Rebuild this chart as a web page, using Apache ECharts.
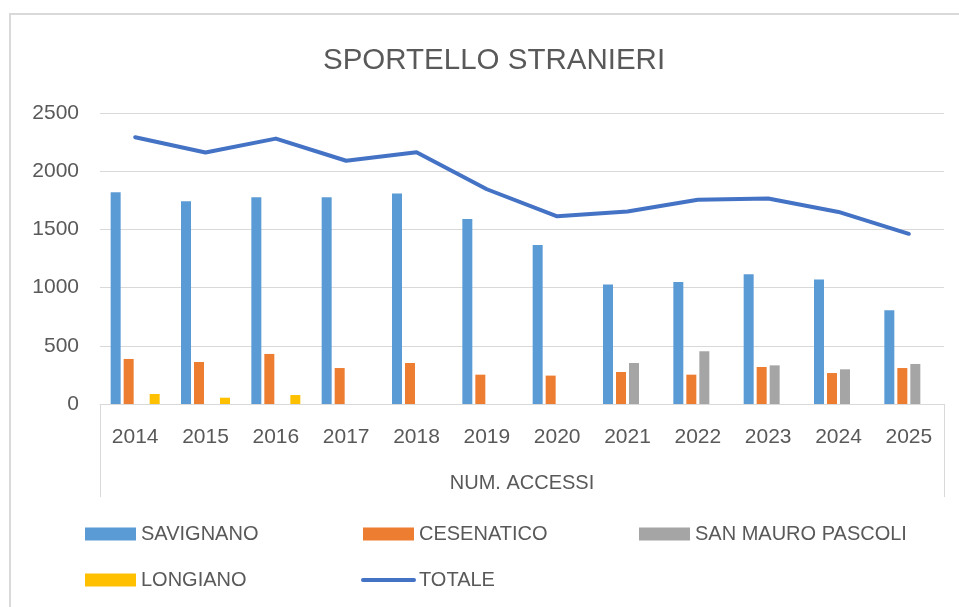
<!DOCTYPE html>
<html>
<head>
<meta charset="utf-8">
<title>SPORTELLO STRANIERI</title>
<script src="https://cdn.jsdelivr.net/npm/echarts@6.0.0/dist/echarts.min.js"></script>
<style>
  html, body { margin: 0; padding: 0; background: #fff; }
  #main { width: 959px; height: 607px; }
</style>
</head>
<body>
<div id="main"></div>
<script>
// dati (num. accessi)
const years = ['2014', '2015', '2016', '2017', '2018', '2019', '2020', '2021', '2022', '2023', '2024', '2025'];
const savignano = [1819, 1742, 1776, 1776, 1808, 1590, 1367, 1026, 1049, 1115, 1069, 805];
const cesenatico = [387, 361, 430, 309, 352, 252, 244, 275, 252, 318, 266, 309];
const sanMauro = [null, null, null, null, null, null, null, 352, 453, 332, 298, 344];
const longiano = [86, 54, 77, null, null, null, null, null, null, null, null, null];
const totale = [2292, 2160, 2280, 2090, 2163, 1845, 1612, 1653, 1755, 1766, 1650, 1462];
const yTicks = [0, 500, 1000, 1500, 2000, 2500];
const outerLabel = ['NUM. ACCESSI'];

const txt = '#595959';
const grid = '#d9d9d9';
const font = "'Liberation Sans', Arial, sans-serif";

const chart = echarts.init(document.getElementById('main'), null, { renderer: 'canvas' });

function legendBox(left, names) {
  return {
    orient: 'vertical',
    left: left,
    top: 524,
    padding: 0,
    itemWidth: 51,
    itemHeight: 13,
    itemGap: 26,
    textStyle: { color: txt, fontSize: 20, fontFamily: font },
    data: names
  };
}

const option = {
  animation: false,
  backgroundColor: '#fff',
  title: {
    text: 'SPORTELLO STRANIERI',
    left: 323,
    top: 46,
    padding: 0,
    textStyle: { color: txt, fontSize: 29.5, fontWeight: 'normal', fontFamily: font }
  },
  graphic: [{
    type: 'rect',
    silent: true,
    shape: { x: 10, y: 14, width: 1000, height: 700 },
    style: { fill: 'none', stroke: grid, lineWidth: 2 }
  }],
  legend: [
    legendBox(85, [{ name: 'SAVIGNANO', icon: 'rect' }, { name: 'LONGIANO', icon: 'rect' }]),
    legendBox(361, [
      { name: 'CESENATICO', icon: 'rect' },
      { name: 'TOTALE', itemStyle: { opacity: 0 }, lineStyle: { width: 4, cap: 'round' } }
    ]),
    legendBox(639, [{ name: 'SAN MAURO PASCOLI', icon: 'rect' }])
  ],
  grid: { left: 100, right: 15, top: 113, bottom: 203, containLabel: false },
  xAxis: [{
    type: 'category',
    data: years,
    position: 'bottom',
    axisLine: { lineStyle: { color: grid, width: 1 } },
    axisTick: { show: false },
    axisLabel: { color: txt, fontSize: 21, fontFamily: font, margin: 23 }
  }, {
    type: 'category',
    data: outerLabel,
    position: 'bottom',
    offset: 0,
    axisLine: { show: false },
    axisTick: { show: true, length: 93, lineStyle: { color: grid, width: 1 } },
    axisLabel: { color: txt, fontSize: 20, fontFamily: font, margin: 69 }
  }],
  yAxis: {
    type: 'value',
    min: yTicks[0],
    max: yTicks[yTicks.length - 1],
    interval: yTicks[1] - yTicks[0],
    axisLine: { show: false },
    axisTick: { show: false },
    splitLine: { lineStyle: { color: grid, width: 1 } },
    axisLabel: {
      color: txt, fontSize: 21, fontFamily: font, margin: 21,
      formatter: function (v) { return String(v); }
    }
  },
  series: [
    { name: 'SAVIGNANO', type: 'bar', data: savignano, barWidth: 10, barGap: '30%', itemStyle: { color: '#5B9BD5' } },
    { name: 'CESENATICO', type: 'bar', data: cesenatico, barWidth: 10, barGap: '30%', itemStyle: { color: '#ED7D31' } },
    { name: 'SAN MAURO PASCOLI', type: 'bar', data: sanMauro, barWidth: 10, barGap: '30%', itemStyle: { color: '#A5A5A5' } },
    { name: 'LONGIANO', type: 'bar', data: longiano, barWidth: 10, barGap: '30%', itemStyle: { color: '#FFC000' } },
    {
      name: 'TOTALE', type: 'line', data: totale, symbol: 'none', z: 5,
      itemStyle: { color: '#4472C4' },
      lineStyle: { color: '#4472C4', width: 4, cap: 'round', join: 'round' }
    }
  ]
};

chart.setOption(option);
</script>
</body>
</html>
